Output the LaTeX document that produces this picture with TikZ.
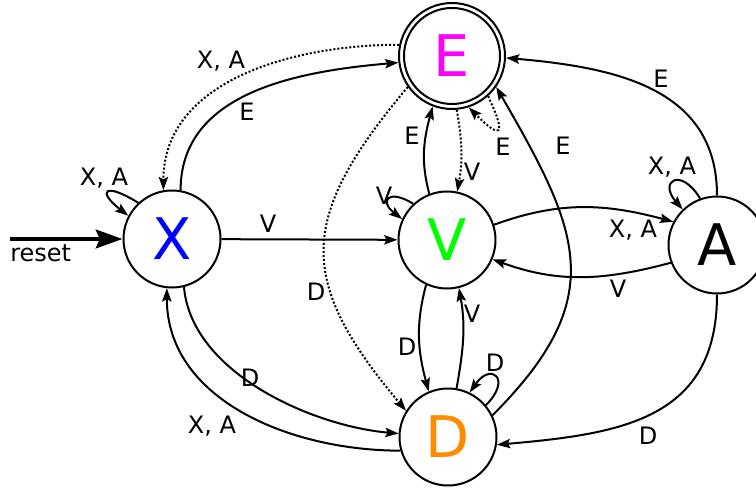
\documentclass[tikz,border=0pt]{standalone}
\usepackage{fontspec}
\setmainfont{DejaVu Sans}
\usetikzlibrary{arrows.meta}
\definecolor{xblue}{RGB}{0,0,255}
\definecolor{vgreen}{RGB}{0,255,0}
\definecolor{emag}{RGB}{255,0,255}
\definecolor{dorange}{RGB}{255,140,0}
\begin{document}
\begin{tikzpicture}[x=0.75pt,y=0.75pt,
  state/.style={circle,draw,line width=1.5pt,minimum size=72.75pt,inner sep=0pt,font=\fontsize{43pt}{43pt}\selectfont},
  edge/.style={line width=1.5pt,-{Stealth[length=10pt,width=7pt,inset=1.8pt]}},
  dots/.style={dash pattern=on 1.5pt off 1.5pt},
  lbl/.style={inner sep=0pt,font=\fontsize{18pt}{18pt}\selectfont}]
\useasboundingbox (0,0) rectangle (756,-488);

% states
\node[state,text=xblue] (X) at (172,-239) {X};
\node[state,text=vgreen] (V) at (447,-240) {V};
\node[state,text=emag,minimum size=79.5pt] (E) at (452,-56) {E};
\draw[line width=1.5pt] (E.center) circle (36pt);
\node[state,text=dorange] (D) at (448,-437) {D};
\node[state] (A) at (717,-245) {A};

% reset
\coordinate (rs) at (10,-239);
\draw[line width=3pt,-{Stealth[length=20pt,width=14pt,inset=3pt]}] (rs) -- (X);
\node[lbl,anchor=base west] (lreset) at (10,-262) {reset};

% loops
\draw[edge] (X.133) to[out=148,in=142,distance=30pt] (X.152);
\node[lbl] (lXX) at (104,-178) {X, A};
\draw[edge] (V.133) to[out=148,in=142,distance=22pt] (V.155);
\node[lbl] (lVV) at (384,-196) {V};
\draw[edge] (D.40) to[out=45,in=55,distance=28pt] (D.64);
\node[lbl] (lDD) at (495,-363) {D};
\draw[edge] (A.110) to[out=121,in=131,distance=28pt] (A.134);
\node[lbl] (lAA) at (672,-167) {X, A};
\draw[edge,dots] (E.-48) to[out=-65,in=-45,distance=34pt] (E.-72);
\node[lbl] (lEE) at (503,-147) {E};

% X edges
\draw[edge] (X) -- (V);
\node[lbl] (lXV) at (268,-224) {V};
\draw[edge] (X.80) to[out=90,in=185] (E.187);
\node[lbl] (lXE) at (247,-112) {E};
\draw[edge,dots] (E.168) to[out=180,in=90] (X.100);
\node[lbl] (lEX) at (221,-61) {X, A};
\draw[edge] (X.-76) to[out=-85,in=175,looseness=0.85] (D.176);
\node[lbl] (lXD) at (250,-378) {D};
\draw[edge] (D.196) to[out=180,in=-90] (X.-96);
\node[lbl] (lDX) at (212,-426) {X, A};

% E / V
\draw[edge,dots] (E.-85) to[out=-80,in=80] (V.78);
\node[lbl] (lEV) at (472,-172) {V};
\draw[edge] (V.111) to[out=105,in=-105] (E.-111);
\node[lbl] (lVE) at (412,-136) {E};
\draw[edge,dots] (E.215) to[out=230,in=130,looseness=1.35] (D.148);
\node[lbl] (lED) at (316,-292) {D};

% V / D
\draw[edge] (V.245) to[out=-105,in=105] (D.113);
\node[lbl] (lVD) at (407,-347) {D};
\draw[edge] (D.80) to[out=80,in=-80] (V.-76);
\node[lbl] (lDV) at (472,-314) {V};

% V / A
\draw[edge] (V.18) to[out=20,in=165] (A.152);
\node[lbl] (lVA) at (633,-230) {X, A};
\draw[edge] (A.201) to[out=195,in=-20] (V.-23);
\node[lbl] (lAV) at (618,-289) {V};

% to E
\draw[edge] (A.90) to[out=90,in=-5,looseness=1.1] (E.-2);
\node[lbl] (lAE) at (661,-79) {E};
\draw[edge] (D.26) to[out=45,in=-60,looseness=1.3] (E.-35);
\node[lbl] (lDE) at (563,-146) {E};

% A to D
\draw[edge] (A.-90) to[out=-90,in=5,looseness=1.2] (D.-9);
\node[lbl] (lAD) at (648,-436) {D};
\end{tikzpicture}
\end{document}
